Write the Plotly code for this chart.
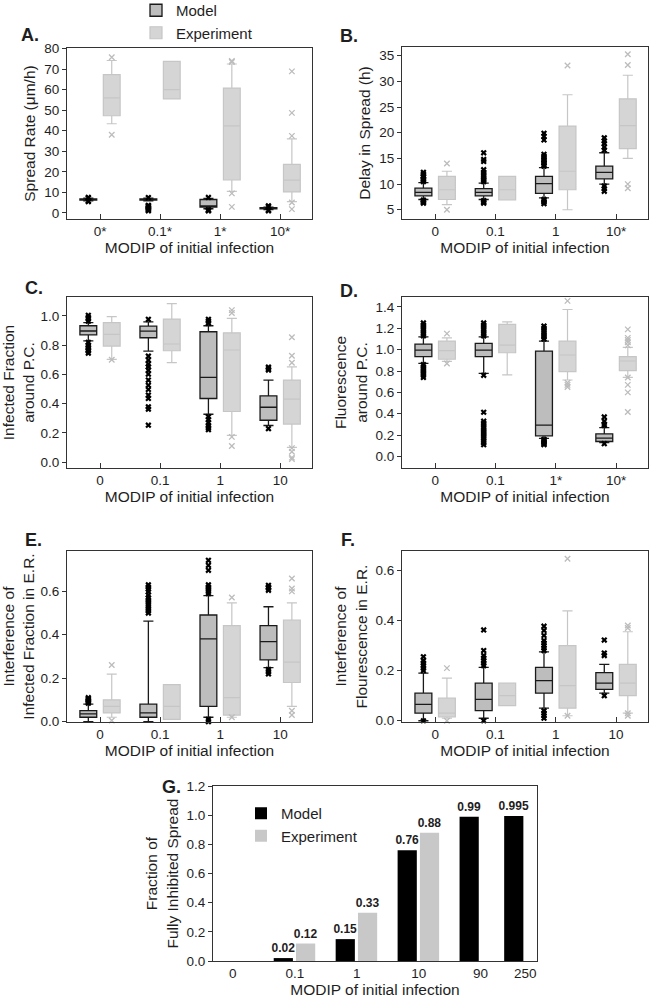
import plotly.graph_objects as go

W, H = 650, 999

# ---------------- data ----------------
CAT_A = ["0*", "0.1*", "1*", "10*"]
CAT_B = ["0", "0.1", "1", "10*"]
CAT_C = ["0", "0.1", "1", "10"]
CAT_D = ["0", "0.1", "1*", "10*"]
CAT_E = ["0", "0.1", "1", "10"]
CAT_F = ["0", "0.1", "1", "10"]

# box statistics per category: [lower whisker, q1, median, q3, upper whisker]
A_MODEL = [[5.9, 6.2, 6.5, 6.8, 7.1], [5.9, 6.2, 6.5, 6.8, 7.1],
           [2.0, 2.8, 3.4, 6.5, 7.0], [1.6, 1.9, 2.2, 2.5, 2.8]]
A_MODEL_OUT = [[5.5, 5.7, 7.3, 7.5], [1.0, 1.4, 1.8, 2.2, 2.6, 3.0, 3.4, 3.7, 7.4],
               [7.5, 1.5, 1.2, 1.0], [3.4, 3.0, 1.3, 1.0]]
A_EXP = [[43.4, 47.3, 56.0, 67.3, 74.2], [55.5, 55.5, 60.0, 73.8, 73.8],
         [10.5, 16.0, 42.4, 60.8, 72.5], [5.5, 10.2, 15.9, 23.6, 36.0]]
A_EXP_OUT = [[75.8, 38.0], [], [74.0, 73.5, 9.5, 2.9], [37.5, 48.7, 68.9, 5.0, 1.8]]

B_MODEL = [[7.0, 7.7, 8.4, 9.2, 10.3], [7.0, 7.7, 8.4, 9.1, 10.2],
           [7.3, 8.2, 10.1, 11.5, 13.2], [10.0, 11.0, 12.3, 13.5, 16.1]]
B_MODEL_OUT = [[10.5, 10.8, 11.0, 11.3, 11.6, 12.0, 12.3, 6.9, 6.7, 6.5, 6.3],
               [10.5, 10.8, 11.1, 11.5, 11.9, 12.3, 12.8, 14.4, 14.8, 16.1, 6.8, 6.5, 6.3],
               [13.5, 13.8, 14.1, 14.4, 14.7, 15.0, 15.4, 15.8, 18.6, 19.3, 19.9, 7.0, 6.8, 6.5, 6.2],
               [16.6, 17.2, 17.9, 18.4, 19.0, 9.6, 9.1, 8.6]]
B_EXP = [[6.0, 7.0, 8.9, 11.5, 12.5], [6.9, 6.9, 8.9, 11.5, 11.5],
         [5.0, 8.9, 12.5, 21.3, 27.4], [15.0, 16.9, 21.4, 26.6, 31.2]]
B_EXP_OUT = [[14.0, 5.0], [], [33.1], [33.2, 35.3, 10.0, 9.2]]

C_MODEL = [[0.83, 0.87, 0.897, 0.933, 0.954], [0.76, 0.851, 0.896, 0.93, 0.96],
           [0.327, 0.435, 0.579, 0.892, 0.933], [0.25, 0.286, 0.375, 0.453, 0.561]]
C_MODEL_OUT = [[0.965, 0.98, 0.99, 1.005, 0.82, 0.80, 0.79, 0.78, 0.77, 0.76, 0.745],
               [0.977, 0.725, 0.698, 0.671, 0.652, 0.629, 0.602, 0.561, 0.526, 0.497,
                0.458, 0.435, 0.378, 0.362, 0.252],
               [0.95, 0.965, 0.977, 0.31, 0.29, 0.27, 0.25, 0.235, 0.222],
               [0.63, 0.64, 0.65, 0.229]]
C_EXP = [[0.703, 0.794, 0.874, 0.954, 0.995], [0.68, 0.762, 0.808, 0.979, 1.084],
         [0.183, 0.346, 0.767, 0.885, 0.984], [0.10, 0.26, 0.43, 0.561, 0.652]]
C_EXP_OUT = [[0.70], [], [1.02, 1.04, 0.172, 0.11], [0.68, 0.728, 0.854, 0.095, 0.07, 0.03, 0.02]]

D_MODEL = [[0.872, 0.934, 0.996, 1.052, 1.12], [0.778, 0.934, 0.996, 1.058, 1.12],
           [0.17, 0.193, 0.293, 0.987, 1.08], [0.13, 0.14, 0.172, 0.212, 0.27]]
D_MODEL_OUT = [[1.13, 1.15, 1.17, 1.19, 1.21, 1.23, 1.25, 0.86, 0.84, 0.82, 0.80, 0.78, 0.76, 0.74],
               [1.13, 1.15, 1.17, 1.19, 1.21, 1.23, 1.25, 0.76, 0.414, 0.33, 0.31, 0.29, 0.27,
                0.25, 0.23, 0.21, 0.19, 0.17, 0.15, 0.13, 0.11],
               [1.10, 1.12, 1.14, 1.16, 1.18, 1.20, 1.22, 0.16, 0.15, 0.14, 0.13, 0.12, 0.11],
               [0.29, 0.30, 0.33, 0.37, 0.12]]
D_EXP = [[0.89, 0.91, 0.99, 1.08, 1.11], [0.763, 0.971, 1.043, 1.236, 1.26],
         [0.716, 0.794, 0.95, 1.08, 1.376], [0.741, 0.803, 0.894, 0.934, 1.021]]
D_EXP_OUT = [[1.15, 0.87], [], [1.457, 0.69, 0.67, 0.65],
             [1.04, 1.07, 1.09, 1.11, 1.19, 0.74, 0.67, 0.60, 0.417]]

E_MODEL = [[0.0, 0.02, 0.035, 0.05, 0.08], [0.0, 0.02, 0.04, 0.08, 0.463],
           [0.02, 0.07, 0.381, 0.491, 0.58], [0.249, 0.284, 0.368, 0.442, 0.529]]
E_MODEL_OUT = [[0.085, 0.09, 0.095, 0.10, 0.105, 0.11],
               [0.50, 0.51, 0.52, 0.53, 0.54, 0.55, 0.56, 0.57, 0.583, 0.598, 0.61, 0.62, 0.63],
               [0.59, 0.60, 0.61, 0.62, 0.63, 0.697, 0.72, 0.743, 0.01, 0.0],
               [0.605, 0.615, 0.62, 0.628, 0.24, 0.23, 0.22]]
E_EXP = [[0.02, 0.04, 0.07, 0.10, 0.219], [0.01, 0.01, 0.07, 0.17, 0.17],
         [0.02, 0.03, 0.11, 0.442, 0.547], [0.07, 0.18, 0.274, 0.468, 0.547]]
E_EXP_OUT = [[0.261, 0.005], [], [0.572, 0.02], [0.60, 0.613, 0.659, 0.05, 0.03]]

F_MODEL = [[0.0, 0.03, 0.065, 0.11, 0.19], [0.01, 0.04, 0.085, 0.15, 0.213],
           [0.05, 0.11, 0.16, 0.213, 0.275], [0.11, 0.125, 0.15, 0.192, 0.225]]
F_MODEL_OUT = [[0.20, 0.21, 0.22, 0.23, 0.24, 0.255, 0.0],
               [0.22, 0.23, 0.24, 0.25, 0.26, 0.28, 0.362, 0.0],
               [0.28, 0.29, 0.30, 0.31, 0.32, 0.34, 0.36, 0.377, 0.04, 0.03, 0.02, 0.01],
               [0.26, 0.27, 0.322, 0.10]]
F_EXP = [[0.01, 0.015, 0.03, 0.09, 0.17], [0.06, 0.06, 0.10, 0.15, 0.15],
         [0.02, 0.05, 0.14, 0.30, 0.438], [0.03, 0.10, 0.15, 0.225, 0.355]]
F_EXP_OUT = [[0.21, 0.0], [], [0.646, 0.02], [0.37, 0.38, 0.02, 0.03]]

G_CATS = ["0", "0.1", "1", "10", "90", "250"]
G_MODEL = [0, 0.02, 0.15, 0.76, 0.99, 0.995]
G_EXP = [0, 0.12, 0.33, 0.88, None, None]

# ---------------- style / layout ----------------
FONT = "Liberation Sans, Arial, sans-serif"
TXT = "#1e1e1e"
MODEL_FILL = "#bdbdbd"
MODEL_LINE = "#1a1a1a"
EXP_FILL = "#d5d5d5"
EXP_LINE = "#c6c6c6"
EXP_OUTC = "#bcbcbc"
OFF = 0.195
BW = 0.28
G_POS = [0, 1, 2, 3, 4, 4.72]   # horizontal slot of each G category


def dom_x(a, b):
    return [a / W, b / W]


def dom_y(top, bottom):
    return [1 - bottom / H, 1 - top / H]


fig = go.Figure()
layout = {}
annotations = []

panels = [
    ("A.", CAT_A, A_MODEL, A_MODEL_OUT, A_EXP, A_EXP_OUT, (67, 312), (48, 219), [-3.0, 80.3], 10, "",
     "Spread Rate (μm/h)", (30, 35)),
    ("B.", CAT_B, B_MODEL, B_MODEL_OUT, B_EXP, B_EXP_OUT, (402, 648), (47, 219), [3.2, 36.7], 5, "",
     "Delay in Spread (h)", (349, 36)),
    ("C.", CAT_C, C_MODEL, C_MODEL_OUT, C_EXP, C_EXP_OUT, (67, 312), (297, 468), [-0.041, 1.13], 0.2, ".1f",
     "Infected Fraction<br>around P.C.", (34, 288)),
    ("D.", CAT_D, D_MODEL, D_MODEL_OUT, D_EXP, D_EXP_OUT, (402, 648), (297, 468), [-0.108, 1.493], 0.2, ".1f",
     "Fluorescence<br>around P.C.", (349, 291)),
    ("E.", CAT_E, E_MODEL, E_MODEL_OUT, E_EXP, E_EXP_OUT, (67, 312), (551, 722), [-0.002, 0.786], 0.2, ".1f",
     "Interference of<br>Infected Fraction in E.R.", (33, 540)),
    ("F.", CAT_F, F_MODEL, F_MODEL_OUT, F_EXP, F_EXP_OUT, (402, 648), (551, 722), [-0.005, 0.677], 0.2, ".1f",
     "Interference of<br>Flourescence in E.R.", (348, 540)),
]

for k, (lbl, cats, mod, mod_out, exp, exp_out, xpx, ypx, yr, dt, fmt, ytitle, lpos) in enumerate(panels):
    n = k + 1
    xa = "x" if n == 1 else f"x{n}"
    ya = "y" if n == 1 else f"y{n}"
    first = (n == 1)
    for stats, outs, off, fill, lc, lw, oc, sym, name in [
        (mod, mod_out, -OFF, MODEL_FILL, MODEL_LINE, 1.3, "#000000", "x", "Model"),
        (exp, exp_out, OFF, EXP_FILL, EXP_LINE, 1.2, EXP_OUTC, "x-thin", "Experiment"),
    ]:
        xs = [i + off for i in range(len(stats))]
        fig.add_trace(go.Box(
            x=xs,
            lowerfence=[s[0] for s in stats], q1=[s[1] for s in stats],
            median=[s[2] for s in stats], q3=[s[3] for s in stats],
            upperfence=[s[4] for s in stats],
            width=BW, whiskerwidth=0.6, boxpoints=False,
            fillcolor=fill, line=dict(color=lc, width=lw),
            name=name, showlegend=first, legend="legend",
            xaxis=xa, yaxis=ya, hoverinfo="skip",
        ))
        ox, oy = [], []
        for i, vals in enumerate(outs):
            for v in vals:
                ox.append(i + off)
                oy.append(v)
        if sym == "x":
            marker = dict(symbol="x", size=5.5, color=oc, line=dict(width=0))
        else:
            marker = dict(symbol="x-thin", size=5.5, color=oc, line=dict(width=1.3, color=oc))
        fig.add_trace(go.Scatter(x=ox, y=oy, mode="markers", marker=marker, showlegend=False,
                                 xaxis=xa, yaxis=ya, hoverinfo="skip", cliponaxis=False))

    xkey = "xaxis" if n == 1 else f"xaxis{n}"
    ykey = "yaxis" if n == 1 else f"yaxis{n}"
    layout[xkey] = dict(
        domain=dom_x(*xpx), anchor=ya, range=[-0.55, 3.53], automargin=False,
        tickmode="array", tickvals=list(range(len(cats))), ticktext=cats,
        ticks="inside", ticklen=5, tickwidth=1, tickcolor="#333",
        showline=True, linecolor="#333", linewidth=1, mirror=True,
        showgrid=False, zeroline=False,
        tickfont=dict(size=13.5, color=TXT, family=FONT),
        title=dict(text="MODIP of initial infection", font=dict(size=15.5, color=TXT, family=FONT), standoff=3),
    )
    layout[ykey] = dict(
        domain=dom_y(*ypx), anchor=xa, range=yr, dtick=dt, tick0=0, tickformat=fmt, automargin=False,
        ticks="outside", ticklen=4, tickwidth=1, tickcolor="#333",
        showline=True, linecolor="#333", linewidth=1, mirror=True,
        showgrid=False, zeroline=False,
        tickfont=dict(size=13.5, color=TXT, family=FONT),
        title=dict(text=ytitle, font=dict(size=15.5, color=TXT, family=FONT), standoff=4),
    )
    annotations.append(dict(text=f"<b>{lbl}</b>", x=lpos[0] / W, y=1 - lpos[1] / H, xref="paper", yref="paper",
                            xanchor="center", yanchor="middle",
                            showarrow=False, font=dict(size=18, color=TXT, family=FONT)))

# ---------------- panel G ----------------
mtext = [("" if v == 0 else f"<b>{v:g}</b>") for v in G_MODEL]
etext = [("" if (v is None or v == 0) else f"<b>{v:g}</b>") for v in G_EXP]
fig.add_trace(go.Bar(x=G_POS, y=G_MODEL, width=0.31, offset=-0.34, marker=dict(color="#000000", line=dict(width=0)),
                     text=mtext, textposition="outside", cliponaxis=False, constraintext="none",
                     textfont=dict(size=12, color=TXT, family=FONT),
                     name="Model", legend="legend2", xaxis="x7", yaxis="y7", hoverinfo="skip"))
fig.add_trace(go.Bar(x=G_POS, y=G_EXP, width=0.31, offset=0.02, marker=dict(color="#c8c8c8", line=dict(width=0)),
                     text=etext, textposition="outside", cliponaxis=False, constraintext="none",
                     textfont=dict(size=12, color=TXT, family=FONT),
                     name="Experiment", legend="legend2", xaxis="x7", yaxis="y7", hoverinfo="skip"))

layout["xaxis7"] = dict(
    domain=dom_x(213, 537), anchor="y7", range=[-0.32, 4.91], automargin=False,
    tickmode="array", tickvals=G_POS, ticktext=G_CATS,
    ticks="", showline=True, linecolor="#333", linewidth=1, mirror=True,
    showgrid=False, zeroline=False,
    tickfont=dict(size=13.5, color=TXT, family=FONT),
    title=dict(text="MODIP of initial infection", font=dict(size=15.5, color=TXT, family=FONT), standoff=3),
)
layout["yaxis7"] = dict(
    domain=dom_y(786, 961), anchor="x7", range=[0, 1.2], dtick=0.2, tickformat=".1f", automargin=False,
    ticks="outside", ticklen=4, tickwidth=1, tickcolor="#333",
    showline=True, linecolor="#333", linewidth=1, mirror=True,
    showgrid=False, zeroline=False,
    tickfont=dict(size=13.5, color=TXT, family=FONT),
    title=dict(text="Fraction of<br>Fully Inhibited Spread", font=dict(size=15.5, color=TXT, family=FONT), standoff=4),
)
annotations.append(dict(text="<b>G.</b>", x=171 / W, y=1 - 787 / H, xref="paper", yref="paper",
                        xanchor="center", yanchor="middle",
                        showarrow=False, font=dict(size=18, color=TXT, family=FONT)))

fig.update_layout(
    template="none",
    width=W, height=H, autosize=False,
    margin=dict(l=0, r=0, t=0, b=0, pad=0, autoexpand=False),
    paper_bgcolor="white", plot_bgcolor="white",
    boxmode="overlay", barmode="overlay",
    font=dict(family=FONT, color=TXT),
    annotations=annotations,
    legend=dict(x=136 / W, y=1.006, xanchor="left", yanchor="top", bgcolor="rgba(0,0,0,0)",
                font=dict(size=15, color=TXT, family=FONT), tracegroupgap=0, itemwidth=30),
    legend2=dict(x=241 / W, y=1 - 797 / H, xanchor="left", yanchor="top", bgcolor="rgba(0,0,0,0)",
                 font=dict(size=15, color=TXT, family=FONT), tracegroupgap=0, itemwidth=30),
    **layout,
)

fig.write_html("out.html", config={"displayModeBar": False},
               post_script="document.body.style.margin='0px';")
